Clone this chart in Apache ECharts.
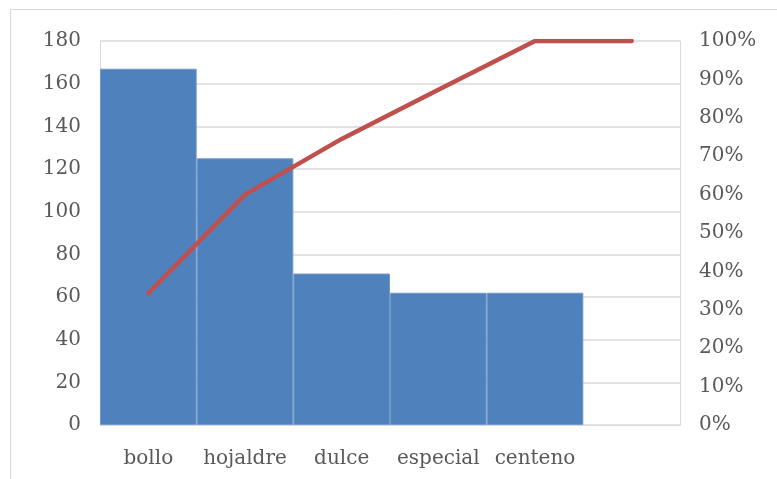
<!DOCTYPE html>
<html>
<head>
<meta charset="utf-8">
<script src="https://cdn.jsdelivr.net/npm/echarts@6/dist/echarts.min.js"></script>
<style>
  html, body { margin: 0; padding: 0; background: #fff; }
  #chart { width: 777px; height: 479px; }
</style>
</head>
<body>
<div id="chart"></div>
<script>
// categories (the last slot is empty, the line runs on into it)
var categories = ['bollo', 'hojaldre', 'dulce', 'especial', 'centeno', ''];
// counts per type
var counts = [167, 125, 71, 62, 62];
// cumulative %
var cumulative = [34.3, 60.0, 74.5, 87.3, 100, 100];

var labelFont = {
  color: '#595959',
  fontFamily: 'DejaVu Serif',
  fontSize: 20
};
var gridColor = '#d9d9d9';

var myChart = echarts.init(document.getElementById('chart'));

var option = {
  backgroundColor: '#fff',
  animation: false,
  graphic: [{
    type: 'rect',
    shape: { x: 10.5, y: 9.5, width: 800, height: 500 },
    style: { fill: 'none', stroke: gridColor, lineWidth: 1 }
  }],
  grid: { left: 100, right: 97, top: 41, bottom: 54 },
  xAxis: {
    type: 'category',
    data: categories,
    boundaryGap: true,
    axisLine: { show: true, lineStyle: { color: gridColor, width: 1 } },
    axisTick: { show: false },
    axisLabel: Object.assign({ margin: 24, interval: 0 }, labelFont)
  },
  yAxis: [{
    type: 'value',
    min: 0,
    max: 180,
    interval: 20,
    axisLine: { show: true, lineStyle: { color: gridColor } },
    axisTick: { show: false },
    splitLine: { lineStyle: { color: gridColor, width: 1.5 } },
    axisLabel: Object.assign({ margin: 19 }, labelFont)
  }, {
    type: 'value',
    min: 0,
    max: 100,
    interval: 10,
    axisLine: { show: true, lineStyle: { color: gridColor } },
    axisTick: { show: false },
    splitLine: { show: false },
    axisLabel: Object.assign({ margin: 19, formatter: '{value}%' }, labelFont)
  }],
  series: [{
    name: 'cantidad',
    type: 'bar',
    data: counts,
    barCategoryGap: 0,
    itemStyle: { color: '#4F81BD', borderColor: '#7199c9', borderWidth: 1 }
  }, {
    name: 'acumulado',
    type: 'line',
    yAxisIndex: 1,
    data: cumulative,
    symbol: 'none',
    lineStyle: { color: '#C0504D', width: 4.5, cap: 'round', join: 'round' },
    z: 5
  }]
};

myChart.setOption(option);
</script>
</body>
</html>
